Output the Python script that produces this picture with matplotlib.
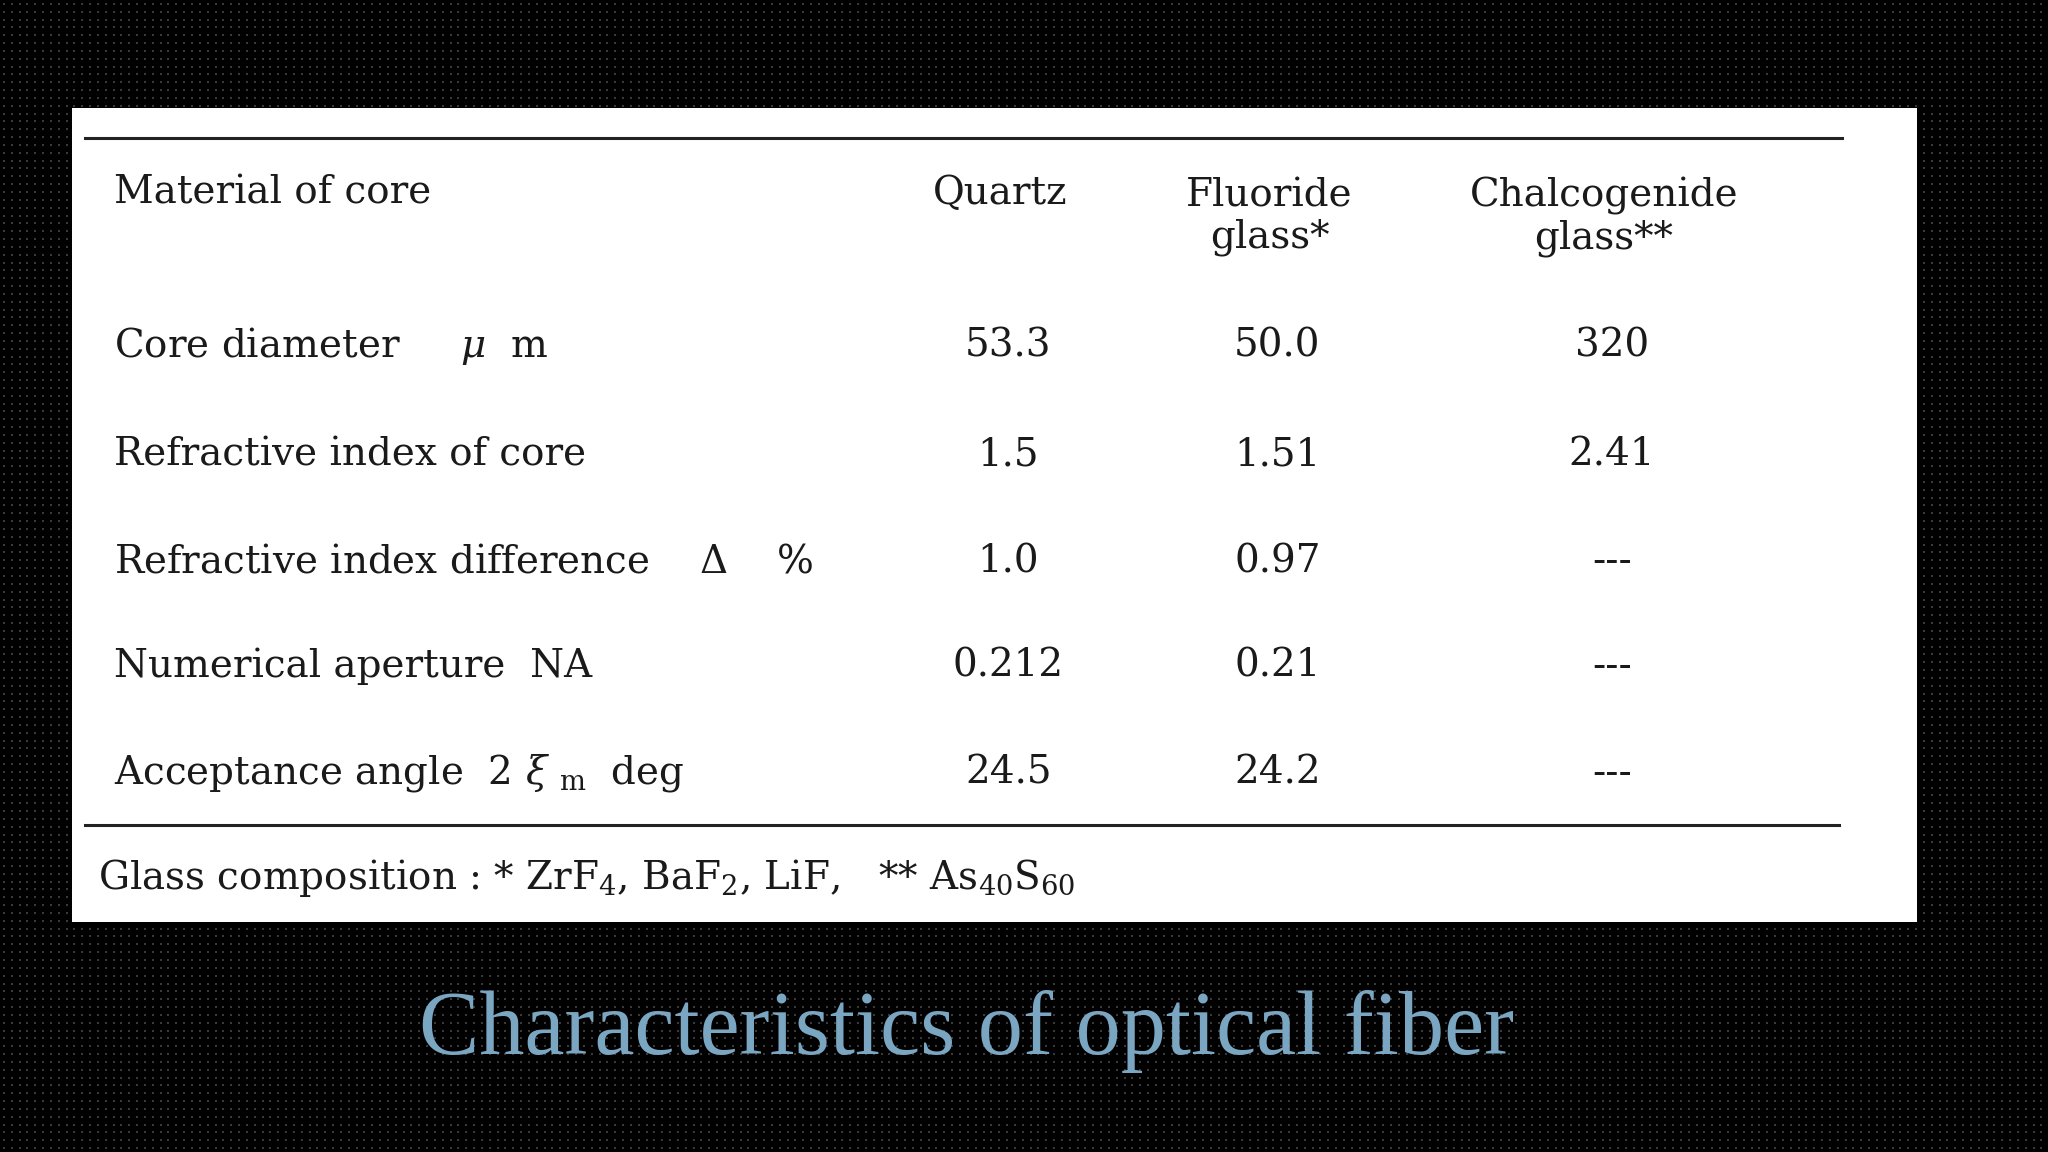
import numpy as np
import matplotlib.pyplot as plt
from matplotlib.patches import Rectangle

plt.rcParams['font.family'] = ['DejaVu Serif']
plt.rcParams['mathtext.fontset'] = 'dejavuserif'

row_labels = ['Core diameter     $\\mu$  m', 'Refractive index of core',
              'Refractive index difference    $\\Delta$    %', 'Numerical aperture  NA',
              'Acceptance angle  2 $\\xi$ $_{\\rm m}$  deg']
quartz = ['53.3', '1.5', '1.0', '0.212', '24.5']
fluoride = ['50.0', '1.51', '0.97', '0.21', '24.2']
chalco = ['320', '2.41', '---', '---', '---']
headers = ['Quartz', 'Fluoride\nglass*', 'Chalcogenide\nglass**']

W, H = 1568, 882
fig = plt.figure(figsize=(20.48, 11.52), dpi=100)
ax = fig.add_axes([0, 0, 1, 1])
ax.set_xlim(0, W)
ax.set_ylim(H, 0)
ax.axis('off')

# dotted dark background
yy, xx = np.mgrid[0:H:6, 0:W:6]
fig.patch.set_facecolor('black')
ax.scatter(xx.ravel() + 3, yy.ravel() + 3, s=0.6, c='#3a3a3a', marker='s', linewidths=0)

ax.add_patch(Rectangle((55, 83), 1413, 623, facecolor='white', zorder=2))
ax.plot([65, 1410], [106, 106], color='#222', lw=2.2, zorder=3)
ax.plot([65, 1408], [632, 632], color='#222', lw=2.2, zorder=3)

fs = 28
tc = '#1a1a1a'
cols = [766, 972, 1228]
ax.text(87, 148, 'Material of core', fontsize=fs, color=tc, va='center', zorder=4)
for x, h in zip(cols, headers):
    ax.text(x, 166 if '\n' in h else 148, h, fontsize=fs, color=tc, ha='center',
            va='center', linespacing=1.15, zorder=4)

rows_y = [265, 348, 430, 510, 592]
for i, y in enumerate(rows_y):
    ax.text(87, y, row_labels[i], fontsize=fs, color=tc, va='center', zorder=4)
    for x, v in zip(cols, [quartz[i], fluoride[i], chalco[i]]):
        ax.text(x + 6, y, v, fontsize=fs, color=tc, ha='center', va='center', zorder=4)

ax.text(75, 672, 'Glass composition : * ZrF$_4$, BaF$_2$, LiF,   ** As$_{40}$S$_{60}$',
        fontsize=fs, color=tc, va='center', zorder=4)

ax.text(740, 790, 'Characteristics of optical fiber', fontsize=65, color='#7ba6c2',
        family='Liberation Serif', ha='center', va='center', zorder=4)

fig.savefig('out.png', dpi=100, facecolor='black')
